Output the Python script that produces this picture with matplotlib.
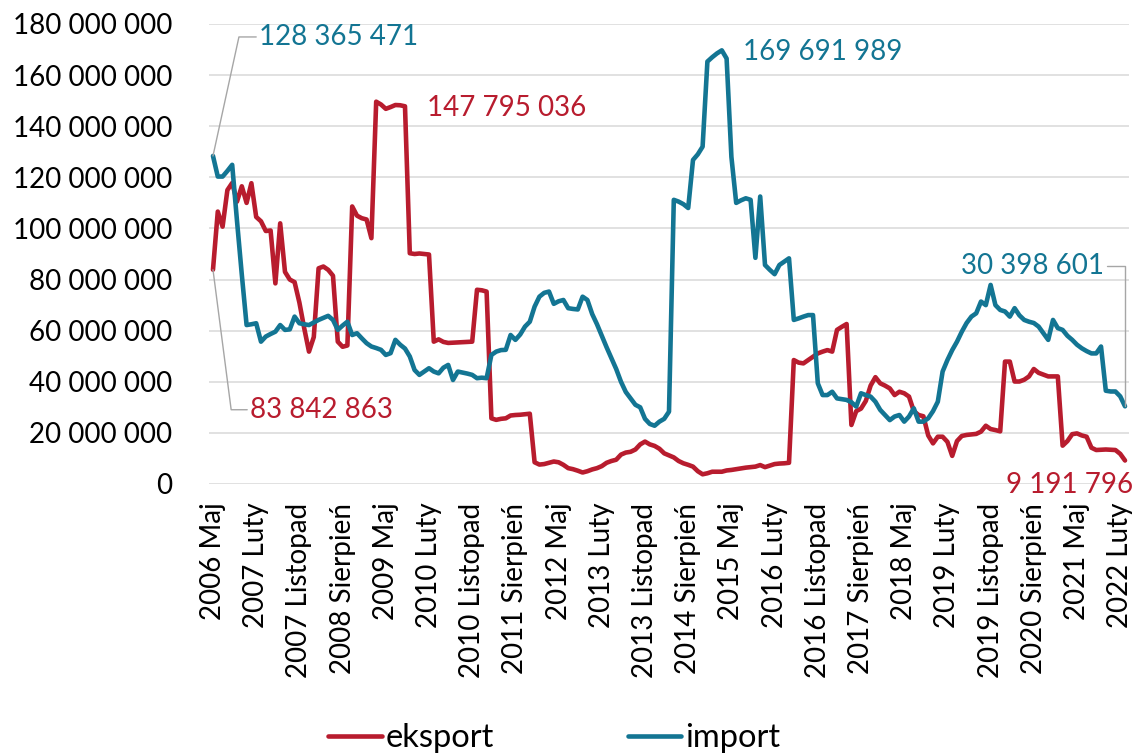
import numpy as np
import matplotlib
matplotlib.use("Agg")
import matplotlib.pyplot as plt

plt.rcParams['font.family'] = ['Lato', 'DejaVu Sans']

# miesieczne wartosci, mln (maj 2006 - marzec 2022)
eksport = [
    83.842863, 106.6, 100.7, 115.0, 117.8, 110.5, 116.5, 110.0, 117.7, 104.5,
    102.8, 99.0, 99.2, 78.5, 102.0, 83.0, 80.0, 79.0, 71.0, 61.0,
    51.8, 57.5, 84.4, 85.1, 83.8, 81.5, 55.7, 53.7, 54.2, 108.6,
    105.0, 104.0, 103.5, 96.2, 149.6, 148.5, 146.8, 147.5, 148.3, 148.2,
    147.795036, 90.3, 90.0, 90.2, 90.0, 89.8, 55.7, 56.6, 55.6, 55.2,
    55.3, 55.4, 55.5, 55.6, 55.7, 76.0, 75.8, 75.3, 25.7, 25.1,
    25.5, 25.7, 26.8, 27.0, 27.1, 27.3, 27.5, 8.5, 7.6, 7.8,
    8.3, 8.8, 8.5, 7.5, 6.2, 5.8, 5.2, 4.5, 5.0, 5.7,
    6.2, 7.0, 8.3, 9.0, 9.5, 11.5, 12.3, 12.6, 13.5, 15.5,
    16.6, 15.5, 14.9, 13.8, 12.0, 11.2, 10.4, 9.0, 8.1, 7.5,
    6.8, 5.0, 3.8, 4.2, 4.8, 4.8, 4.8, 5.3, 5.5, 5.8,
    6.1, 6.4, 6.6, 6.8, 7.4, 6.6, 7.2, 7.8, 8.0, 8.1,
    8.3, 48.5, 47.5, 47.2, 48.5, 49.8, 51.1, 51.8, 52.4, 51.8,
    60.3, 61.5, 62.6, 23.1, 28.5, 29.5, 32.5, 38.5, 41.8, 39.4,
    38.5, 37.4, 34.8, 36.1, 35.5, 34.2, 28.5, 27.0, 26.5, 19.0,
    15.9, 18.5, 18.5, 16.5, 11.0, 16.8, 18.8, 19.2, 19.4, 19.6,
    20.5, 22.8, 21.5, 21.1, 20.6, 47.9, 47.9, 40.1, 40.1, 40.8,
    42.1, 45.0, 43.5, 42.8, 42.1, 42.1, 42.1, 15.0, 16.8, 19.5,
    19.8, 19.0, 18.5, 14.2, 13.3, 13.4, 13.5, 13.4, 13.3, 11.8,
    9.191796,
]

import_ = [
    128.365471, 120.3, 120.3, 122.5, 124.9, 103.0, 82.0, 62.2, 62.5, 62.9,
    55.7, 57.7, 58.7, 59.6, 62.2, 60.3, 60.5, 65.5, 62.9, 62.5,
    62.2, 63.2, 64.2, 65.0, 65.8, 64.2, 60.3, 62.0, 63.5, 58.3,
    59.0, 57.0, 55.1, 53.8, 53.2, 52.5, 50.5, 51.2, 56.4, 54.5,
    53.0, 49.9, 44.6, 42.7, 44.0, 45.3, 44.0, 43.3, 45.5, 46.6,
    40.7, 44.0, 43.6, 43.2, 42.7, 41.4, 41.6, 41.4, 50.5, 51.8,
    52.4, 52.5, 58.3, 56.4, 58.5, 61.6, 63.5, 69.4, 73.3, 74.8,
    75.3, 70.5, 71.5, 72.0, 68.8, 68.5, 68.3, 73.3, 72.0, 66.5,
    62.5, 58.0, 53.5, 49.2, 45.0, 40.0, 36.0, 33.5, 31.0, 30.0,
    25.5, 23.5, 22.8, 24.4, 25.5, 28.3, 111.2, 110.5, 109.5, 108.0,
    126.8, 129.0, 132.0, 165.3, 167.0, 168.5, 169.691989, 166.5, 128.0, 110.0,
    111.0, 111.8, 111.2, 88.5, 112.5, 85.7, 83.8, 82.1, 85.7, 87.0,
    88.3, 64.2, 64.8, 65.5, 66.1, 66.1, 39.4, 34.8, 34.8, 36.1,
    33.5, 33.2, 32.9, 32.0, 30.3, 35.5, 34.8, 34.2, 32.2, 29.0,
    27.0, 25.0, 26.4, 27.0, 24.4, 26.4, 29.6, 24.4, 24.4, 25.7,
    28.5, 32.2, 44.0, 48.5, 52.4, 55.7, 59.6, 63.0, 65.5, 66.8,
    71.4, 70.0, 77.9, 70.0, 68.1, 67.5, 65.5, 68.8, 66.0, 64.2,
    63.5, 63.0, 61.6, 59.0, 56.4, 64.2, 61.0, 60.3, 58.0, 56.4,
    54.5, 53.1, 52.0, 51.1, 51.1, 53.8, 36.5, 36.2, 36.2, 34.3,
    30.398601,
]

x_labels = ['2006 Maj', '2007 Luty', '2007 Listopad', '2008 Sierpień',
            '2009 Maj', '2010 Luty', '2010 Listopad', '2011 Sierpień',
            '2012 Maj', '2013 Luty', '2013 Listopad', '2014 Sierpień',
            '2015 Maj', '2016 Luty', '2016 Listopad', '2017 Sierpień',
            '2018 Maj', '2019 Luty', '2019 Listopad', '2020 Sierpień',
            '2021 Maj', '2022 Luty']

assert len(eksport) == len(import_) == 191

RED = '#B81C2E'
TEAL = '#137593'

x = np.arange(len(eksport))
eks = np.array(eksport) * 1e6
imp = np.array(import_) * 1e6


def fmt(v):
    return f'{int(round(v)):,}'.replace(',', ' ')


fig = plt.figure(figsize=(11.35, 7.53), dpi=100)
ax = fig.add_axes([209 / 1135, 1 - 484 / 753, 920 / 1135, 460 / 753])

ax.plot(x, eks, color=RED, lw=3.3, solid_joinstyle='round',
        solid_capstyle='round', label='eksport', zorder=3)
ax.plot(x, imp, color=TEAL, lw=3.3, solid_joinstyle='round',
        solid_capstyle='round', label='import', zorder=3)

ax.set_ylim(0, 180e6)
ax.set_xlim(-0.83, len(x) - 1 + 0.83)
ax.set_yticks(np.arange(0, 180e6 + 1, 20e6))
ax.set_yticklabels([fmt(v) for v in np.arange(0, 180e6 + 1, 20e6)])
ax.set_xticks(x[::9])
ax.set_xticklabels(x_labels, rotation=90, ha='center', va='top')
ax.tick_params(axis='y', length=0, pad=26.5, labelsize=20)
ax.tick_params(axis='x', length=0, pad=13.5, labelsize=20)

ax.grid(axis='y', color='#D9D9D9', lw=1.1)
ax.set_axisbelow(True)
for s in ax.spines.values():
    s.set_visible(False)

# etykiety danych
lab = dict(fontsize=20, textcoords='offset pixels', annotation_clip=False)
lead = dict(arrowstyle='-', color='#A6A6A6', lw=1.0, shrinkA=0, shrinkB=0)

ax.annotate(fmt(imp[0]), (x[0], imp[0]), xytext=(46, 119), color=TEAL,
            ha='left', va='center',
            arrowprops=dict(lead, relpos=(0, 0.5),
                            connectionstyle='angle,angleA=0,angleB=77.7,rad=0'),
            **lab)
ax.annotate(fmt(eks[0]), (x[0], eks[0]), xytext=(37, -140), color=RED,
            ha='left', va='center',
            arrowprops=dict(lead, relpos=(0, 0.5),
                            connectionstyle='angle,angleA=0,angleB=-82.6,rad=0'),
            **lab)

i_eks = int(np.argmin(np.abs(eks - 147795036)))
ax.annotate(fmt(eks[i_eks]), (x[i_eks], eks[i_eks]), xytext=(22, -2),
            color=RED, ha='left', va='center', **lab)
i_imp = int(np.argmax(imp))
ax.annotate(fmt(imp[i_imp]), (x[i_imp], imp[i_imp]), xytext=(21, -2),
            color=TEAL, ha='left', va='center', **lab)

ax.annotate(fmt(imp[-1]), (x[-1], imp[-1]), xytext=(-21, 140), color=TEAL,
            ha='right', va='center',
            arrowprops=dict(lead, relpos=(1, 0.5),
                            connectionstyle='angle,angleA=0,angleB=90,rad=0'),
            **lab)
ax.annotate(fmt(eks[-1]), (x[-1], eks[-1]), xytext=(8, -24), color=RED,
            ha='right', va='center', **lab)

fig.legend(loc='center', bbox_to_anchor=(554 / 1135, 1 - 738 / 753),
           ncol=2, frameon=False, fontsize=23.5, handlelength=1.65,
           handletextpad=0.1, columnspacing=4.1, borderpad=0)

fig.savefig('out.png', dpi=100)
